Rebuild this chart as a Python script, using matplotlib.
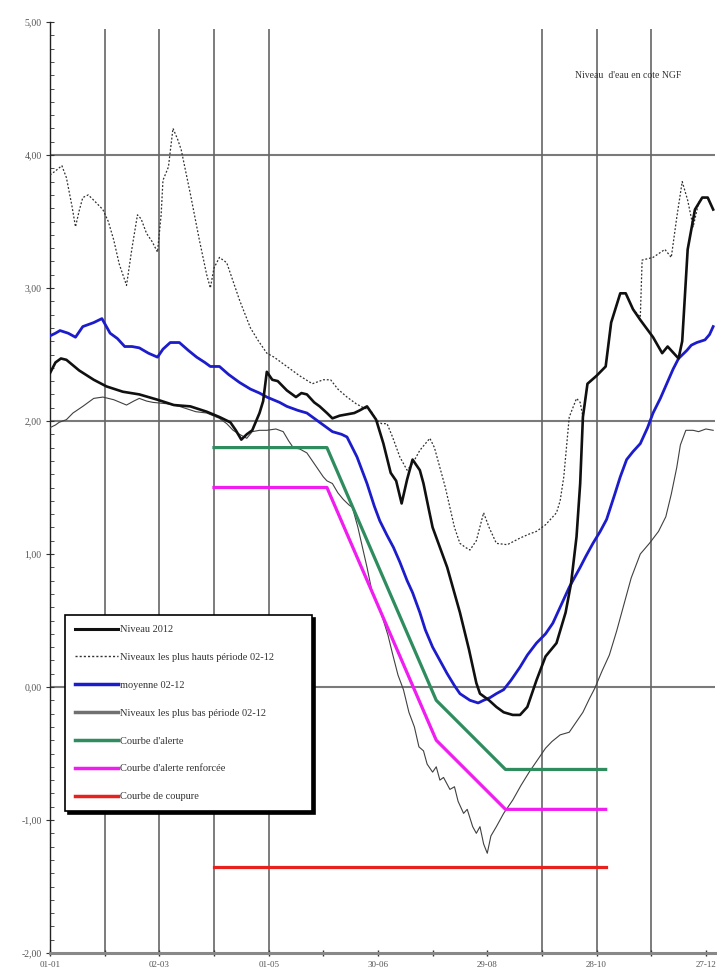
import matplotlib
matplotlib.use('Agg')
import matplotlib.pyplot as plt
from matplotlib.lines import Line2D
from matplotlib.ticker import MultipleLocator

plt.rcParams['font.family'] = ['Liberation Serif', 'DejaVu Serif']

# jours depuis le 01-01 et cotes NGF (m)
jours_2012 = [0, 3, 6, 9, 16, 24, 31, 40, 49, 59, 68, 77, 86, 93, 99, 102, 105, 108, 111, 115,
              117, 119, 122, 125, 130, 135, 138, 141, 145, 148, 152, 155, 159, 163, 167, 170,
              174, 179, 183, 187, 190, 193, 196, 199, 203, 205, 208, 210, 214, 218, 225, 230,
              234, 236, 241, 245, 249, 254, 258, 262, 267, 272, 278, 283, 286, 289, 291, 292.5,
              295, 300, 305, 308, 313, 316, 320, 324, 331, 336, 339, 345, 347, 350, 354, 358,
              361, 364]
niveau_2012 = [2.36, 2.44, 2.47, 2.46, 2.38, 2.31, 2.26, 2.22, 2.20, 2.16, 2.12, 2.11, 2.07, 2.03,
               1.99, 1.93, 1.86, 1.90, 1.93, 2.06, 2.15, 2.37, 2.31, 2.30, 2.23, 2.18, 2.21, 2.20,
               2.14, 2.11, 2.06, 2.02, 2.04, 2.05, 2.06, 2.08, 2.11, 2.01, 1.83, 1.61, 1.55, 1.38,
               1.56, 1.71, 1.63, 1.53, 1.33, 1.20, 1.05, 0.90, 0.56, 0.28, 0.03, -0.05, -0.10,
               -0.15, -0.19, -0.21, -0.21, -0.15, 0.05, 0.23, 0.33, 0.56, 0.78, 1.13, 1.53, 2.03,
               2.28, 2.34, 2.41, 2.74, 2.96, 2.96, 2.84, 2.76, 2.63, 2.51, 2.56, 2.47, 2.60, 3.29,
               3.59, 3.68, 3.68, 3.59]

jours_hauts = [0, 3, 6.5, 9, 12, 14, 16, 18, 21, 24, 29, 32, 35, 38, 42, 45, 48, 50, 53, 56, 59,
               61, 62, 65, 67.5, 70, 72, 77, 82, 86, 88, 90, 93, 97, 104, 110, 114, 119, 123,
               130, 137, 144, 150, 154, 158, 163, 168, 172, 176, 179, 182, 185, 188, 192, 196,
               199, 203, 208.5, 211, 214, 217, 219.5, 222, 225, 228, 230.5, 234, 238, 241, 245,
               251, 258, 263, 267, 272, 278, 280, 282, 285, 289, 291, 292.5, 295, 300, 305, 308,
               313, 316, 320, 324, 325, 331, 337.5, 341, 344, 347, 350, 353, 356, 358, 361, 364]
niveau_hauts = [3.85, 3.88, 3.92, 3.83, 3.62, 3.46, 3.58, 3.68, 3.70, 3.66, 3.59, 3.50, 3.36,
                3.18, 3.02, 3.30, 3.55, 3.52, 3.41, 3.35, 3.27, 3.55, 3.81, 3.91, 4.20, 4.12,
                4.04, 3.71, 3.36, 3.10, 3.00, 3.15, 3.23, 3.19, 2.91, 2.70, 2.61, 2.51, 2.48,
                2.41, 2.34, 2.28, 2.31, 2.31, 2.24, 2.18, 2.13, 2.10, 2.08, 2.01, 1.98, 1.98,
                1.88, 1.73, 1.63, 1.68, 1.78, 1.87, 1.80, 1.65, 1.50, 1.35, 1.20, 1.08, 1.05,
                1.03, 1.10, 1.31, 1.20, 1.08, 1.07, 1.12, 1.15, 1.17, 1.22, 1.31, 1.40, 1.58,
                2.03, 2.17, 2.14, 2.03, 2.28, 2.34, 2.41, 2.74, 2.96, 2.96, 2.84, 2.78, 3.21,
                3.23, 3.29, 3.23, 3.53, 3.80, 3.66, 3.46, 3.64, 3.68, 3.68, 3.59]

jours_moy = [0, 3, 5.5, 10, 14, 18, 24, 28.5, 33, 37, 41, 45, 49, 54, 59, 62, 66, 71, 76, 80.5,
             85, 88, 93, 98, 104, 110, 115, 119, 126, 130, 136, 141, 148, 155, 160, 163, 168.5,
             174, 178, 181, 185, 188.5, 192, 196, 199, 203, 206, 210, 214, 218, 222, 225, 230.5,
             235, 238, 241.5, 245, 249, 253, 258, 262, 267, 272, 276, 280, 285, 291, 294, 298,
             302, 305.5, 310, 313, 316.5, 320, 324, 328, 331, 335, 338.5, 342, 345, 349.5, 352,
             355, 359.5, 362, 364]
niveau_moy = [2.64, 2.66, 2.68, 2.66, 2.63, 2.71, 2.74, 2.77, 2.66, 2.62, 2.56, 2.56, 2.55, 2.51,
              2.48, 2.54, 2.59, 2.59, 2.53, 2.48, 2.44, 2.41, 2.41, 2.35, 2.29, 2.24, 2.21, 2.18,
              2.14, 2.11, 2.08, 2.06, 1.99, 1.92, 1.90, 1.88, 1.73, 1.53, 1.36, 1.25, 1.14, 1.05,
              0.94, 0.80, 0.71, 0.56, 0.43, 0.30, 0.20, 0.10, 0.01, -0.05, -0.10, -0.12, -0.10,
              -0.08, -0.05, -0.02, 0.05, 0.15, 0.24, 0.33, 0.40, 0.48, 0.60, 0.75, 0.90, 0.98,
              1.08, 1.17, 1.26, 1.45, 1.58, 1.71, 1.77, 1.83, 1.95, 2.06, 2.17, 2.28, 2.39, 2.47,
              2.53, 2.57, 2.59, 2.61, 2.65, 2.71]

jours_bas = [0, 3, 5, 9, 12.6, 18, 24, 29, 35, 42, 46, 49, 53, 56.5, 64, 71, 80, 86, 93, 97,
             100.5, 104, 108, 111, 115, 119, 124, 128, 131, 133.5, 137, 141, 144, 146.5, 150, 152,
             155, 158, 161, 164, 166, 169, 172, 174, 177, 180, 183, 185.5, 188, 191, 194, 197,
             200, 202.5, 205, 207, 210, 212, 214, 216, 219.5, 222, 224, 227, 229, 232, 234, 236,
             238, 240, 242, 245, 249, 254, 258.5, 263, 268, 272, 275.5, 280, 285, 289, 292.5,
             296, 299, 303, 307, 311, 315, 319, 324, 329, 334, 338, 341, 344, 346, 349, 353, 356,
             360, 364]
niveau_bas = [1.95, 1.97, 1.99, 2.01, 2.06, 2.11, 2.17, 2.18, 2.16, 2.12, 2.15, 2.17, 2.15, 2.14,
              2.13, 2.11, 2.07, 2.06, 2.02, 1.98, 1.93, 1.90, 1.87, 1.92, 1.93, 1.93, 1.94, 1.92,
              1.85, 1.80, 1.79, 1.76, 1.70, 1.65, 1.58, 1.55, 1.53, 1.46, 1.41, 1.37, 1.35, 1.20,
              1.02, 0.90, 0.70, 0.62, 0.50, 0.39, 0.25, 0.09, -0.02, -0.19, -0.30, -0.45, -0.48,
              -0.58, -0.64, -0.60, -0.70, -0.68, -0.77, -0.75, -0.86, -0.95, -0.92, -1.05, -1.10,
              -1.05, -1.18, -1.25, -1.12, -1.05, -0.95, -0.85, -0.74, -0.64, -0.54, -0.46, -0.41,
              -0.36, -0.34, -0.26, -0.19, -0.09, -0.01, 0.12, 0.24, 0.42, 0.62, 0.82, 1.00, 1.08,
              1.17, 1.28, 1.45, 1.65, 1.82, 1.93, 1.93, 1.92, 1.94, 1.93]

# courbes de gestion
jours_courbes = [90, 152, 212, 250, 305]
courbe_alerte = [1.80, 1.80, -0.10, -0.62, -0.62]
courbe_renforcee = [1.50, 1.50, -0.40, -0.92, -0.92]
jours_coupure = [90, 305]
courbe_coupure = [-1.35, -1.35]

ticks_jours = list(range(0, 361, 30))
labels_jours = ['01-01', '', '02-03', '', '01-05', '', '30-06', '', '29-08', '', '28-10', '', '27-12']
verticales = [30, 60, 90, 120, 270, 300, 330]

fig = plt.figure(figsize=(7.2, 9.77), dpi=100)
ax = fig.add_axes([50 / 720, 24 / 977, 665 / 720, 931 / 977])
ax.set_xlim(0, 365)
ax.set_ylim(-2, 5)

# quadrillage
for yv in [4, 2, 0]:
    ax.axhline(yv, color='#7a7a7a', lw=1.5, zorder=1)
ax.vlines(verticales, -2, 4.95, color='#666666', lw=1.2, zorder=1)

ax.plot(jours_bas, niveau_bas, color='#404040', lw=0.8, zorder=3)
ax.plot(jours_hauts, niveau_hauts, color='#303030', lw=0.9, ls=(0, (1.5, 1.5)), zorder=3)
ax.plot(jours_coupure, courbe_coupure, color='#e8201e', lw=2.3, zorder=4)
ax.plot(jours_courbes, courbe_renforcee, color='#f01cf0', lw=2.3, zorder=4)
ax.plot(jours_courbes, courbe_alerte, color='#2e8c5e', lw=2.3, zorder=4)
ax.plot(jours_moy, niveau_moy, color='#1c1ccc', lw=2.0, zorder=5)
ax.plot(jours_2012, niveau_2012, color='#101010', lw=1.9, zorder=6)

# axes
for s in ['top', 'right']:
    ax.spines[s].set_visible(False)
ax.spines['left'].set_color('#222222')
ax.spines['left'].set_linewidth(1.0)
ax.spines['bottom'].set_color('#888888')
ax.spines['bottom'].set_linewidth(2.2)

ax.yaxis.set_minor_locator(MultipleLocator(0.1))
ax.set_yticks(range(-2, 6))
ax.set_yticklabels([f'{v:.2f}'.replace('.', ',') for v in range(-2, 6)])
ax.tick_params(axis='y', which='major', direction='inout', length=6, width=0.8,
               colors='#333333', labelsize=7, labelcolor='#555555', pad=3)
ax.tick_params(axis='y', which='minor', direction='in', length=3, width=0.6, colors='#333333')

ax.set_xticks(ticks_jours)
ax.set_xticklabels(labels_jours)
ax.tick_params(axis='x', which='major', direction='inout', length=4, width=1.0,
               colors='#333333', labelsize=6.5, labelcolor='#555555', pad=4)

ax.text(0.869, 0.943, "Niveau  d'eau en cote NGF", transform=ax.transAxes,
        ha='center', va='center', fontsize=7, color='#333333')

# legende
poignees = [
    Line2D([], [], color='#101010', lw=2.2),
    Line2D([], [], color='#303030', lw=1.0, ls=(0, (1.5, 1.5))),
    Line2D([], [], color='#1c1ccc', lw=2.5),
    Line2D([], [], color='#707070', lw=2.5),
    Line2D([], [], color='#2e8c5e', lw=2.5),
    Line2D([], [], color='#f01cf0', lw=2.5),
    Line2D([], [], color='#e8201e', lw=2.5),
]
libelles = ['Niveau 2012', 'Niveaux les plus hauts période 02-12', 'moyenne 02-12',
            'Niveaux les plus bas période 02-12', "Courbe d'alerte",
            "Courbe d'alerte renforcée", 'Courbe de coupure']
leg = ax.legend(poignees, libelles, loc='upper left', bbox_to_anchor=(0.0226, 0.363, 0.371, 0.0),
                mode='expand', fontsize=7.5, handlelength=4.1, handletextpad=0.25,
                labelspacing=1.78, borderpad=0.95, borderaxespad=0, fancybox=False,
                shadow={'color': 'black', 'alpha': 1.0}, framealpha=1)
leg.get_frame().set_edgecolor('black')
leg.get_frame().set_linewidth(1.2)
for t in leg.get_texts():
    t.set_color('#333333')
leg.set_zorder(10)

fig.savefig('out.png', dpi=100)
